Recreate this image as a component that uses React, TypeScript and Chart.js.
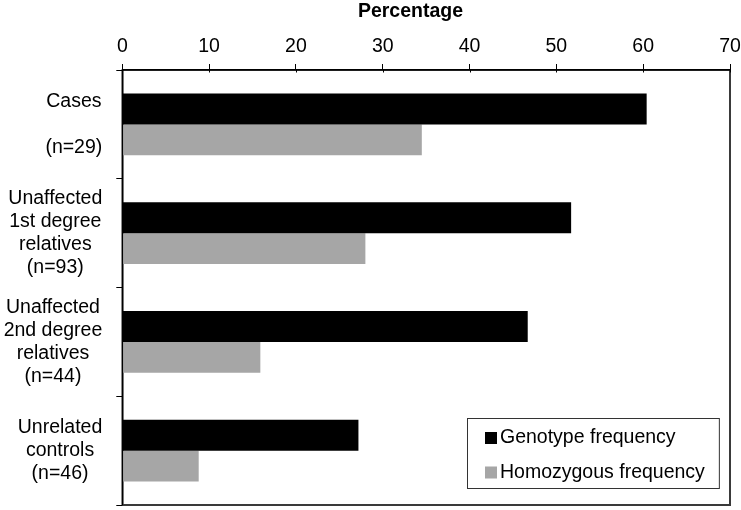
import React, { useEffect, useRef } from "react";
import { Chart, registerables } from "chart.js";

Chart.register(...registerables);

// ---- data ----
const categories: string[][] = [
  ["Cases", "", "(n=29)"],
  ["Unaffected", "1st degree", "relatives", "(n=93)"],
  ["Unaffected", "2nd degree", "relatives", "(n=44)"],
  ["Unrelated", "controls", "(n=46)"],
];
const genotypeFrequency = [60.4, 51.7, 46.7, 27.2];
const homozygousFrequency = [34.5, 28.0, 15.9, 8.8];
const seriesNames = ["Genotype frequency", "Homozygous frequency"];
const xMin = 0;
const xMax = 70;
const xStep = 10;
const axisTitle = "Percentage";

const FONT = "'Liberation Sans', Arial, Helvetica, sans-serif";
const FS = 19.5;

const framePlugin = {
  id: "framePlugin",
  afterDraw(chart: any) {
    const { ctx, chartArea: a, scales } = chart;
    const y = scales.y;
    const x = scales.x;
    ctx.save();

    // category labels: block right-aligned, lines centred within block
    ctx.font = `${FS}px ${FONT}`;
    ctx.fillStyle = "#000";
    ctx.textAlign = "center";
    ctx.textBaseline = "middle";
    const lh = 23;
    (chart.data.labels as string[][]).forEach((lines, i) => {
      const cy = y.getPixelForValue(i);
      const w = Math.max(...lines.map((l) => ctx.measureText(l).width));
      const cx = a.left - 20 - w / 2;
      lines.forEach((l, j) => {
        ctx.fillText(l, cx, cy + (j - (lines.length - 1) / 2) * lh);
      });
    });

    // frame: right and bottom
    ctx.strokeStyle = "#3a3a3a";
    ctx.lineWidth = 2;
    ctx.beginPath();
    ctx.moveTo(a.right, a.top);
    ctx.lineTo(a.right, a.bottom);
    ctx.lineTo(a.left, a.bottom);
    ctx.stroke();

    // axes lines left/top
    ctx.strokeStyle = "#000";
    ctx.lineWidth = 1.5;
    ctx.beginPath();
    ctx.moveTo(a.left, a.bottom);
    ctx.lineTo(a.left, a.top);
    ctx.lineTo(a.right, a.top);
    ctx.stroke();

    // small tick extension below top axis
    ctx.lineWidth = 1;
    x.ticks.forEach((t: any) => {
      const px = Math.round(x.getPixelForValue(t.value)) + 0.5;
      ctx.beginPath();
      ctx.moveTo(px, a.top);
      ctx.lineTo(px, a.top + 2.5);
      ctx.stroke();
    });

    // legend box
    const ds = chart.data.datasets;
    ctx.font = `${FS}px ${FONT}`;
    ctx.textAlign = "left";
    ctx.textBaseline = "alphabetic";
    const tw = Math.max(...ds.map((d: any) => ctx.measureText(d.label).width));
    const bw = 18 + 12 + 3 + tw + 14;
    const bh = 70;
    const bx = Math.round(a.right - 11 - bw);
    const by = Math.round(a.bottom - 17 - bh);
    ctx.fillStyle = "#fff";
    ctx.fillRect(bx, by, bw, bh);
    ctx.strokeStyle = "#333";
    ctx.lineWidth = 1;
    ctx.strokeRect(bx + 0.5, by + 0.5, bw, bh);
    ds.forEach((d: any, i: number) => {
      const base = by + 25 + i * 34.5;
      ctx.fillStyle = d.backgroundColor;
      ctx.fillRect(bx + 18, base - 11, 12, 12);
      ctx.fillStyle = "#000";
      ctx.fillText(d.label, bx + 33, base);
    });

    ctx.restore();
  },
};

export default function App() {
  const ref = useRef<HTMLCanvasElement | null>(null);

  useEffect(() => {
    if (!ref.current) return;
    const chart = new Chart(ref.current, {
      type: "bar",
      data: {
        labels: categories as any,
        datasets: [
          {
            label: seriesNames[0],
            data: genotypeFrequency,
            backgroundColor: "#000000",
            borderWidth: 0,
            categoryPercentage: 0.57,
            barPercentage: 1,
          },
          {
            label: seriesNames[1],
            data: homozygousFrequency,
            backgroundColor: "#a6a6a6",
            borderWidth: 0,
            categoryPercentage: 0.57,
            barPercentage: 1,
          },
        ],
      },
      options: {
        indexAxis: "y",
        animation: false,
        responsive: false,
        devicePixelRatio: 1,
        layout: { padding: { left: 80, right: 0, top: 0, bottom: 5 } },
        plugins: {
          legend: { display: false },
          tooltip: { enabled: false },
          title: {
            display: true,
            text: axisTitle,
            color: "#000",
            font: { size: FS, weight: "bold", family: FONT },
            padding: { top: 0, bottom: 0 },
            fullSize: true,
          },
        },
        scales: {
          x: {
            position: "top",
            min: xMin,
            max: xMax,
            ticks: {
              stepSize: xStep,
              color: "#000",
              padding: 6,
              font: { size: FS, family: FONT },
            },
            grid: {
              drawOnChartArea: false,
              tickLength: 6,
              color: "#000",
              lineWidth: 1,
            },
            border: { color: "#000", width: 1.5 },
            afterFit: (s: any) => {
              s.height = 46.6;
              s.paddingRight = 11;
              s.paddingLeft = 0;
            },
          },
          y: {
            ticks: { display: false },
            grid: {
              drawOnChartArea: false,
              tickLength: 6,
              color: "#000",
              offset: true,
            },
            border: { color: "#000", width: 1.5 },
            afterFit: (s: any) => {
              s.width = 42.3;
            },
          },
        },
      } as any,
      plugins: [framePlugin],
    });
    return () => chart.destroy();
  }, []);

  return (
    <div style={{ position: "fixed", left: 0, top: 0, width: 741, height: 510, background: "#fff" }}>
      <canvas ref={ref} width={741} height={510} style={{ width: 741, height: 510, display: "block" }} />
    </div>
  );
}
